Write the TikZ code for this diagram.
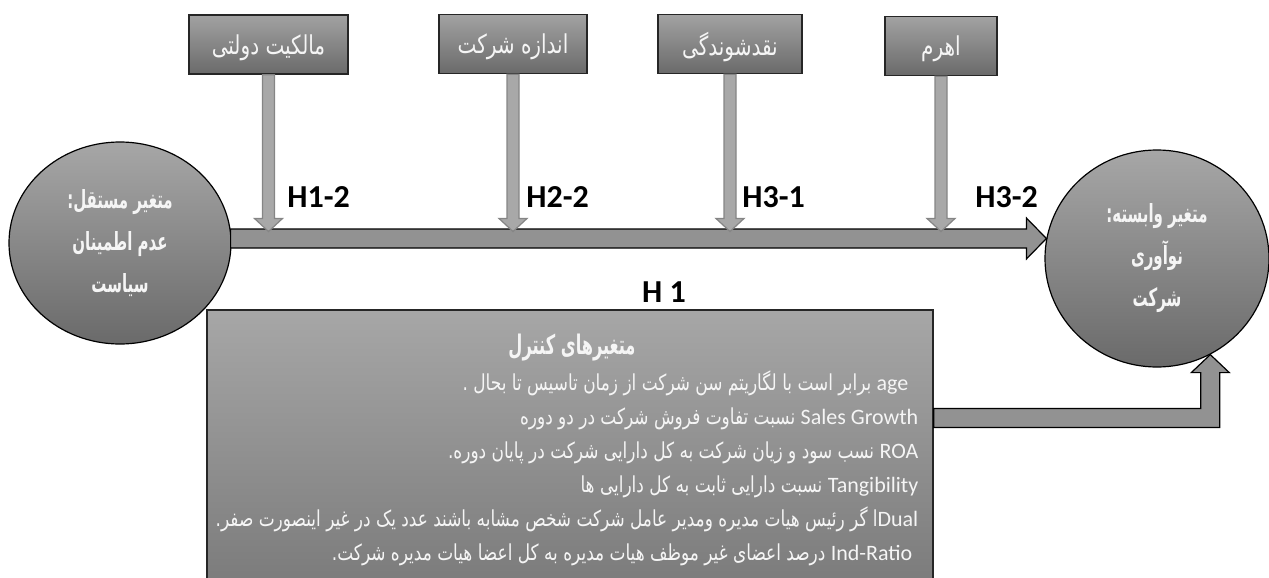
\documentclass[tikz,border=0pt]{standalone}
\usepackage{fontspec}
\setmainfont{Carlito}
\newfontfamily\fa[Script=Arabic, FakeStretch=0.77]{DejaVu Sans}
\newfontfamily\fanarrow[Script=Arabic, FakeStretch=0.6]{DejaVu Sans}
\TeXXeTstate=1
\usetikzlibrary{calc, positioning, shapes.geometric}

\definecolor{boxTop}{HTML}{A2A2A2}
\definecolor{boxBot}{HTML}{6A6A6A}
\definecolor{arrFill}{HTML}{A8A8A8}
\definecolor{arrLine}{HTML}{858585}
\definecolor{txtWhite}{HTML}{F5F5F5}

\newcommand{\fatext}[1]{{\beginR #1\endR}}
\newcommand{\lat}[1]{{\rmfamily\beginL #1\endL}}

\begin{document}
\begin{tikzpicture}[
    x=0.5pt, y=-0.5pt,
    varbox/.style={draw=black!85, line width=0.7pt, top color=boxTop, bottom color=boxBot,
        minimum height=29.5pt, inner sep=0pt, text depth=0pt, text=txtWhite, font=\fa\fontsize{13}{15}\selectfont},
    varcirc/.style={ellipse, draw=black, line width=0.6pt, top color=boxTop!95!white, bottom color=boxBot,
        inner sep=0pt, align=center, text=txtWhite, font=\fanarrow\bfseries\fontsize{12.5}{21}\selectfont},
    hyp/.style={font=\bfseries\fontsize{16}{18}\selectfont, inner sep=0pt, anchor=west},
    vArr/.style={draw=arrLine, fill=arrFill, line width=0.6pt},
    bigArr/.style={draw=black, fill=boxTop!90!black, line width=0.6pt}
]
\useasboundingbox (0,0) rectangle (1269,578);
\clip (0,0) rectangle (1269,578);

% Independent and dependent variables
\node[varcirc, minimum width=111pt, minimum height=101pt] (indep) at (120,243)
    {\fatext{متغیر مستقل:}\\ \fatext{عدم اطمینان}\\ \fatext{سیاست}};
\node[varcirc, minimum width=112pt, minimum height=108.5pt] (dep) at (1157,258.5)
    {\fatext{متغیر وابسته:}\\ \fatext{نوآوری}\\ \fatext{شرکت}};

% Moderators
\node[varbox, minimum width=79.5pt] (own) at (268.5,44.5) {\fatext{مالکیت دولتی}};
\node[varbox, minimum width=74pt] (size) at (513,44) {\fatext{اندازه شرکت}};
\node[varbox, minimum width=72pt] (liq) at (730,44) {\fatext{نقدشوندگی}};
\node[varbox, minimum width=56pt] (lev) at (941,46) {\fatext{اهرم}};

% Control variables
\node[draw=black!85, line width=0.7pt, top color=boxTop!95!white, bottom color=boxBot!90!white,
    minimum width=363pt, minimum height=145pt] (ctrl) at (570,455) {};
\node[text=txtWhite, font=\fanarrow\bfseries\fontsize{13.5}{15}\selectfont] (ctrlTitle)
    at ($(ctrl.north)+(2,38)$) {\fatext{متغیرهای کنترل}};
\node[text=txtWhite, align=right, anchor=north east, inner sep=0pt,
    font=\fa\fontsize{11}{17}\selectfont] (ctrlText) at ($(ctrl.north east)+(-15,61)$) {%
    \fatext{\lat{age} برابر است با لگاریتم سن شرکت از زمان تاسیس تا بحال .}\kern5pt\\
    \fatext{\lat{Sales Growth} نسبت تفاوت فروش شرکت در دو دوره}\\
    \fatext{\lat{ROA} نسب سود و زیان شرکت به کل دارایی شرکت در پایان دوره.}\\
    \fatext{\lat{Tangibility} نسبت دارایی ثابت به کل دارایی ها}\\
    \fatext{\lat{Dual}ا گر رئیس هیات مدیره ومدیر عامل شرکت شخص مشابه باشند عدد یک در غیر اینصورت صفر.}\\
    \fatext{\lat{Ind-Ratio} درصد اعضای غیر موظف هیات مدیره به کل اعضا هیات مدیره شرکت.}\kern3pt};

% Main path H1
\coordinate (mainL) at ($(indep.east)+(-1,-4.5)$);
\coordinate (mainR) at ($(dep.west)+(2,-20)$);
\coordinate (mTop) at ($(mainL)+(0,-7)$);
\draw[bigArr] ($(mainL)+(0,-9.5)$) -- ($(mainR)+(-20,-9.5)$) -- ($(mainR)+(-20,-20.5)$)
    -- (mainR) -- ($(mainR)+(-20,20.5)$) -- ($(mainR)+(-20,9.5)$) -- ($(mainL)+(0,9.5)$) -- cycle;

% Moderating arrows
\foreach \b in {own, size, liq, lev}
    \draw[vArr] ($(\b.south)+(-6,0)$) -- ($(\b.south |- mTop)+(-6,-13)$) -- ++(-8,0)
        -- (\b.south |- mTop) -- ($(\b.south |- mTop)+(14,-13)$) -- ++(-8,0)
        -- ($(\b.south)+(6,0)$) -- cycle;

% Hypothesis labels
\node[hyp] (h12) at (287,197) {H1-2};
\node[hyp] (h22) at (526,197) {H2-2};
\node[hyp] (h31) at (742,197) {H3-1};
\node[hyp] (h32) at (975,197) {H3-2};
\node[hyp, anchor=center] (h1) at (664,292) {H 1};

% Controls to dependent variable
\coordinate (cS) at ($(ctrl.east)+(0,-37)$);
\coordinate (cT) at (dep.-61);
\draw[bigArr] ($(cS)+(0,-9.5)$) -- ($(cT |- cS)+(-9.5,-9.5)$) -- ($(cT)+(-9.5,18)$) -- ($(cT)+(-19,18)$)
    -- (cT) -- ($(cT)+(19,18)$) -- ($(cT)+(9.5,18)$) -- ($(cT |- cS)+(9.5,9.5)$) -- ($(cS)+(0,9.5)$) -- cycle;

\end{tikzpicture}
\end{document}
